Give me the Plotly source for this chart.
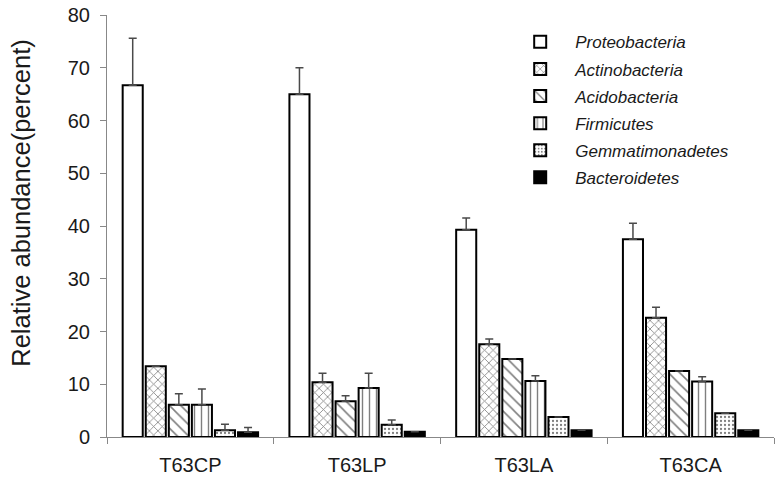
import plotly.graph_objects as go

sites = ["T63CP", "T63LP", "T63LA", "T63CA"]
phyla = ["Proteobacteria", "Actinobacteria", "Acidobacteria", "Firmicutes",
         "Gemmatimonadetes", "Bacteroidetes"]

proteobacteria = [66.7, 65.0, 39.3, 37.5]
actinobacteria = [13.4, 10.4, 17.6, 22.6]
acidobacteria = [6.1, 6.8, 14.8, 12.5]
firmicutes = [6.1, 9.3, 10.6, 10.5]
gemmatimonadetes = [1.3, 2.3, 3.8, 4.5]
bacteroidetes = [0.9, 1.0, 1.3, 1.3]

err_proteo = [8.9, 5.0, 2.2, 3.0]
err_actino = [0.0, 1.7, 1.0, 2.0]
err_acido = [2.1, 1.0, 0.0, 0.0]
err_firmi = [3.0, 2.8, 1.0, 0.9]
err_gemma = [1.1, 0.9, 0.0, 0.0]
err_bacte = [0.9, 0.0, 0.0, 0.0]

y_title = "Relative abundance(percent)"

values = [proteobacteria, actinobacteria, acidobacteria, firmicutes, gemmatimonadetes, bacteroidetes]
errors = [err_proteo, err_actino, err_acido, err_firmi, err_gemma, err_bacte]

patterns = [
    dict(shape=""),
    dict(shape="x", size=6, solidity=0.25, fgcolor="black", bgcolor="white"),
    dict(shape="\\", size=8, solidity=0.2, fgcolor="black", bgcolor="white"),
    dict(shape="|", size=7, solidity=0.2, fgcolor="black", bgcolor="white"),
    dict(shape=".", size=4, solidity=0.25, fgcolor="black", bgcolor="white"),
    dict(shape=""),
]
fills = ["white", "white", "white", "white", "white", "black"]

fig = go.Figure()
for i, (name, v, e, p, c) in enumerate(zip(phyla, values, errors, patterns, fills)):
    fig.add_trace(go.Bar(
        x=sites, y=v, name=name, legendgroup="g%d" % i,
        marker=dict(color=c, line=dict(color="black", width=2), pattern=p),
        error_y=dict(type="data", array=e, arrayminus=[0] * len(e), symmetric=False,
                     color="#4a4a4a", thickness=1.5, width=4),
    ))

fig.update_layout(
    width=782, height=483,
    margin=dict(l=107, r=8, t=15, b=46),
    paper_bgcolor="white", plot_bgcolor="white",
    barmode="group", bargap=0.17, bargroupgap=0.13,
    font=dict(family="Liberation Sans, Arial, sans-serif", color="#1a1a1a"),
    legend=dict(x=0.597, y=0.978, xanchor="left", yanchor="top",
                font=dict(size=17, style="italic", color="#1a1a1a"),
                bgcolor="rgba(0,0,0,0)", tracegroupgap=2, itemwidth=60),
    showlegend=True,
    annotations=[dict(text=y_title, xref="paper", yref="paper", x=-0.129, y=0.555,
                      xanchor="center", yanchor="middle", textangle=-90, showarrow=False,
                      font=dict(size=25.5, color="#1a1a1a"))],
)
fig.update_yaxes(range=[0, 80], dtick=10, showgrid=False, zeroline=False,
                 showline=True, linecolor="#888888", linewidth=1,
                 ticks="outside", ticklen=6, tickcolor="#888888",
                 tickfont=dict(size=20), ticklabelstandoff=6, automargin=False)
fig.update_xaxes(showgrid=False, showline=True, linecolor="#888888", linewidth=1,
                 ticks="outside", tickson="boundaries", ticklen=6, tickcolor="#888888",
                 tickfont=dict(size=20), ticklabelstandoff=10, automargin=False)

fig.write_html("out.html", config={"displayModeBar": False},
               post_script="document.body.style.margin='0';document.body.style.overflow='hidden';")
